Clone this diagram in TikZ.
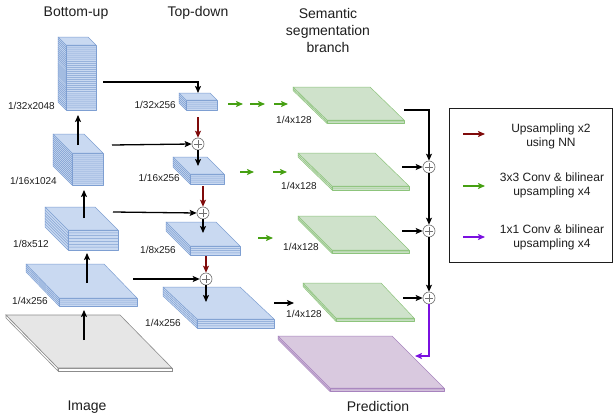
\documentclass[tikz,border=0pt]{standalone}
\usepackage{fontspec}
\setmainfont{Liberation Sans}
\usetikzlibrary{arrows.meta,calc}

\definecolor{blueFill}{HTML}{C9D9F1}
\definecolor{blueLine}{HTML}{7E9FD2}
\definecolor{greenFill}{HTML}{CFE2CB}
\definecolor{greenLine}{HTML}{8DC47C}
\definecolor{purpFill}{HTML}{D9C9DF}
\definecolor{purpLine}{HTML}{A783BE}
\definecolor{grayFill}{HTML}{E6E6E6}
\definecolor{grayLine}{HTML}{8C8C8C}
\definecolor{upred}{HTML}{7F0A0A}
\definecolor{convgreen}{HTML}{46A012}
\definecolor{convpurp}{HTML}{7A10E0}
\definecolor{txt}{HTML}{1E1E1E}

% layered prism: #1 tag, (#2,#3) front-left corner of the top face,
% #4 width, #5/#6 depth offsets, #7 stack height, #8 inner layer lines, #9 style
\newcommand{\slab}[9]{%
  % left side face
  \path[#9] (#2,#3) -- ++(-#5,-#6) -- ++(0,#7) -- ++(#5,#6) -- cycle;
  % front face
  \path[#9] (#2,#3) rectangle ++(#4,#7);
  % layer lines on front and side
  \foreach \k in {1,...,#8}{%
    \pgfmathsetmacro\off{\k*#7/(#8+1)}%
    \draw[#9, fill=none] (#2+#4,#3+\off) -- (#2,#3+\off) -- ++(-#5,-#6);
  }%
  % top face
  \path[#9] (#2,#3) -- ++(#4,0) -- ++(-#5,-#6) -- ++(-#4,0) -- cycle;
}

\tikzset{
  hd/.style={-{Stealth[length=7pt,width=6pt,inset=1.5pt]}},
  conn/.style={hd, line width=1.3pt, draw=black},
  upconn/.style={hd, line width=1.3pt, draw=upred},
  gconn/.style={hd, line width=1.4pt, draw=convgreen},
  pconn/.style={hd, line width=1.4pt, draw=convpurp},
  bluelayer/.style={fill=blueFill, draw=blueLine, line width=0.5pt, line join=round},
  greenlayer/.style={fill=greenFill, draw=greenLine, line width=0.5pt, line join=round},
  purplayer/.style={fill=purpFill, draw=purpLine, line width=0.5pt, line join=round},
  plusc/.style={circle, draw=grayLine!80!black, fill=white, minimum size=12pt,
    inner sep=0pt, line width=0.6pt,
    path picture={\draw[line width=0.6pt, draw=grayLine!80!black]
      ([xshift=-4pt]path picture bounding box.center) -- ([xshift=4pt]path picture bounding box.center)
      ([yshift=-4pt]path picture bounding box.center) -- ([yshift=4pt]path picture bounding box.center);}},
  lbl/.style={font=\fontsize{10}{12}\selectfont, text=txt, inner sep=0pt},
  ttl/.style={font=\fontsize{14}{17}\selectfont, text=txt, inner sep=0pt, align=center},
  legtxt/.style={font=\fontsize{12}{14}\selectfont, text=txt, inner sep=0pt, align=center},
}

\begin{document}
\begin{tikzpicture}[x=1pt, y=-1pt]
\useasboundingbox (0,0) rectangle (614,418);
\fill[white] (0,0) rectangle (614,418);

% ---------- titles ----------
\node[ttl] (tBU) at (76,13) {Bottom-up};
\node[ttl] (tTD) at (198,13) {Top-down};
\node[ttl] (tSS) at (328,30) {Semantic\\segmentation\\branch};
\node[ttl] (tIm) at (87,407) {Image};
\node[ttl] (tPr) at (378,406) {Prediction};

% ---------- input image ----------
\path[fill=white, draw=grayLine, line width=0.6pt] (58,368) -- ++(-52,-53) -- ++(0,3) -- ++(52,53) -- cycle;
\path[fill=white, draw=grayLine, line width=0.6pt] (58,368) rectangle ++(114,3);
\path[fill=grayFill, draw=grayLine, line width=0.6pt] (58,368) -- ++(114,0) -- ++(-52,-53) -- ++(-114,0) -- cycle;

% ---------- bottom-up pathway ----------
\slab{B1}{66}{45}{30}{8}{8}{65}{31}{bluelayer}
\slab{B2}{72}{153}{31}{19}{19}{32}{15}{bluelayer}
\slab{B3}{68}{230}{50}{23}{23}{20}{6}{bluelayer}
\slab{B4}{59}{298}{78}{33}{34}{8}{3}{bluelayer}

\node[lbl, anchor=east] (lB1) at (55,106) {1/32x2048};
\node[lbl, anchor=east] (lB2) at (57,181) {1/16x1024};
\node[lbl, anchor=east] (lB3) at (49,244) {1/8x512};
\node[lbl, anchor=east] (lB4) at (48,301) {1/4x256};

% ---------- top-down pathway ----------
\slab{T1}{186}{100}{31}{7}{7}{10}{4}{bluelayer}
\slab{T2}{190}{174}{34}{17}{17}{10}{4}{bluelayer}
\slab{T3}{190}{246}{50}{24}{24}{9}{3}{bluelayer}
\slab{T4}{197}{319}{77}{34}{32}{9}{3}{bluelayer}

\node[lbl, anchor=east] (lT1) at (176,105) {1/32x256};
\node[lbl, anchor=east] (lT2) at (180,178) {1/16x256};
\node[lbl, anchor=east] (lT3) at (176,250) {1/8x256};
\node[lbl, anchor=east] (lT4) at (181,323) {1/4x256};

% ---------- semantic branch ----------
\slab{G1}{327}{120}{77}{34}{33}{3.5}{1}{greenlayer}
\slab{G2}{332}{186}{77}{34}{33}{4}{1}{greenlayer}
\slab{G3}{332}{250}{77}{34}{34}{3.5}{1}{greenlayer}
\slab{G4}{336}{318}{78}{33}{35}{3.5}{1}{greenlayer}
\slab{PR}{330}{388}{114}{52}{52}{3.5}{1}{purplayer}

\node[lbl, anchor=west] (lG1) at (276,120) {1/4x128};
\node[lbl, anchor=west] (lG2) at (281,186) {1/4x128};
\node[lbl, anchor=west] (lG3) at (283,247) {1/4x128};
\node[lbl, anchor=west] (lG4) at (286,314) {1/4x128};

% ---------- merge points ----------
\node[plusc] (p1) at (198,144) {};
\node[plusc] (p2) at (203,213) {};
\node[plusc] (p3) at (206,279) {};
\node[plusc] (pa) at (429,167) {};
\node[plusc] (pb) at (429,231) {};
\node[plusc] (pc) at (429,298) {};

% ---------- connector end points ----------
\coordinate (imgTop) at (84,340);  \coordinate (b4Bot) at (84,310);
\coordinate (b4Top) at (87,283);   \coordinate (b3Bot) at (87,253);
\coordinate (b3Top) at (84,218);   \coordinate (b2Bot) at (84,190);
\coordinate (b2Top) at (78,145);   \coordinate (b1Bot) at (78,115);
\coordinate (b1Out) at (103,82);   \coordinate (t1In) at (198,93);
\coordinate (b2Out) at (112,145);
\coordinate (b3Out) at (113,212);
\coordinate (b4Out) at (133,279);
\coordinate (t1Out) at (198,117);  \coordinate (t2In) at (198,166);
\coordinate (t2Out) at (203,186);  \coordinate (t3In) at (203,233);
\coordinate (t3Out) at (206,256);  \coordinate (t4In) at (206,302);
\coordinate (g1Out) at (404,110);
\coordinate (g2Out) at (402,167);
\coordinate (g3Out) at (402,231);
\coordinate (g4Out) at (403,298);
\coordinate (t4Out) at (274,303);  \coordinate (g4In) at (294,303);
\coordinate (prIn) at (415,356);

% ---------- bottom-up arrows ----------
\draw[conn] (imgTop) -- (b4Bot);
\draw[conn] (b4Top) -- (b3Bot);
\draw[conn] (b3Top) -- (b2Bot);
\draw[conn] (b2Top) -- (b1Bot);

% lateral connections
\draw[conn] (b1Out) -| (t1In);
\draw[conn] (b2Out) -- (p1.west);
\draw[conn] (b3Out) -- (p2.west);
\draw[conn] (b4Out) -- (p3.west);

% top-down arrows
\draw[upconn] (t1Out) -- (p1.north);
\draw[conn] (p1.south) -- (t2In);
\draw[upconn] (t2Out) -- (p2.north);
\draw[conn] (p2.south) -- (t3In);
\draw[upconn] (t3Out) -- (p3.north);
\draw[conn] (p3.south) -- (t4In);

% conv + upsampling stages
\foreach \a/\b [count=\k] in {228/243, 250/265, 274/288}{
  \coordinate (ga\k) at (\a,104); \coordinate (gb\k) at (\b,104);
  \draw[gconn] (ga\k) -- (gb\k);
}
\foreach \a/\b [count=\k] in {240/254, 273/287}{
  \coordinate (ha\k) at (\a,172); \coordinate (hb\k) at (\b,172);
  \draw[gconn] (ha\k) -- (hb\k);
}
\coordinate (ia) at (258,238); \coordinate (ib) at (273,238);
\draw[gconn] (ia) -- (ib);
\draw[conn] (t4Out) -- (g4In);

% summation of the branch
\draw[conn] (g1Out) -| (pa.north);
\draw[conn] (g2Out) -- (pa.west);
\draw[conn] (pa.south) -- (pb.north);
\draw[conn] (g3Out) -- (pb.west);
\draw[conn] (pb.south) -- (pc.north);
\draw[conn] (g4Out) -- (pc.west);
\draw[pconn] (pc.south) |- (prIn);

% ---------- legend ----------
\node[draw=txt, line width=1.1pt, minimum width=163pt, minimum height=154pt, anchor=north west, inner sep=0pt] (leg) at (449,108) {};
\coordinate (lrA) at (463,134); \coordinate (lrB) at (485,134);
\coordinate (lgA) at (463,186); \coordinate (lgB) at (485,186);
\coordinate (lpA) at (463,237); \coordinate (lpB) at (485,237);
\draw[upconn] (lrA) -- (lrB);
\draw[gconn] (lgA) -- (lgB);
\draw[pconn] (lpA) -- (lpB);
\node[legtxt] (leg1) at (551,136) {Upsampling x2\\using NN};
\node[legtxt] (leg2) at (552,185) {3x3 Conv \& bilinear\\upsampling x4};
\node[legtxt] (leg3) at (552,237) {1x1 Conv \& bilinear\\upsampling x4};
\end{tikzpicture}
\end{document}
